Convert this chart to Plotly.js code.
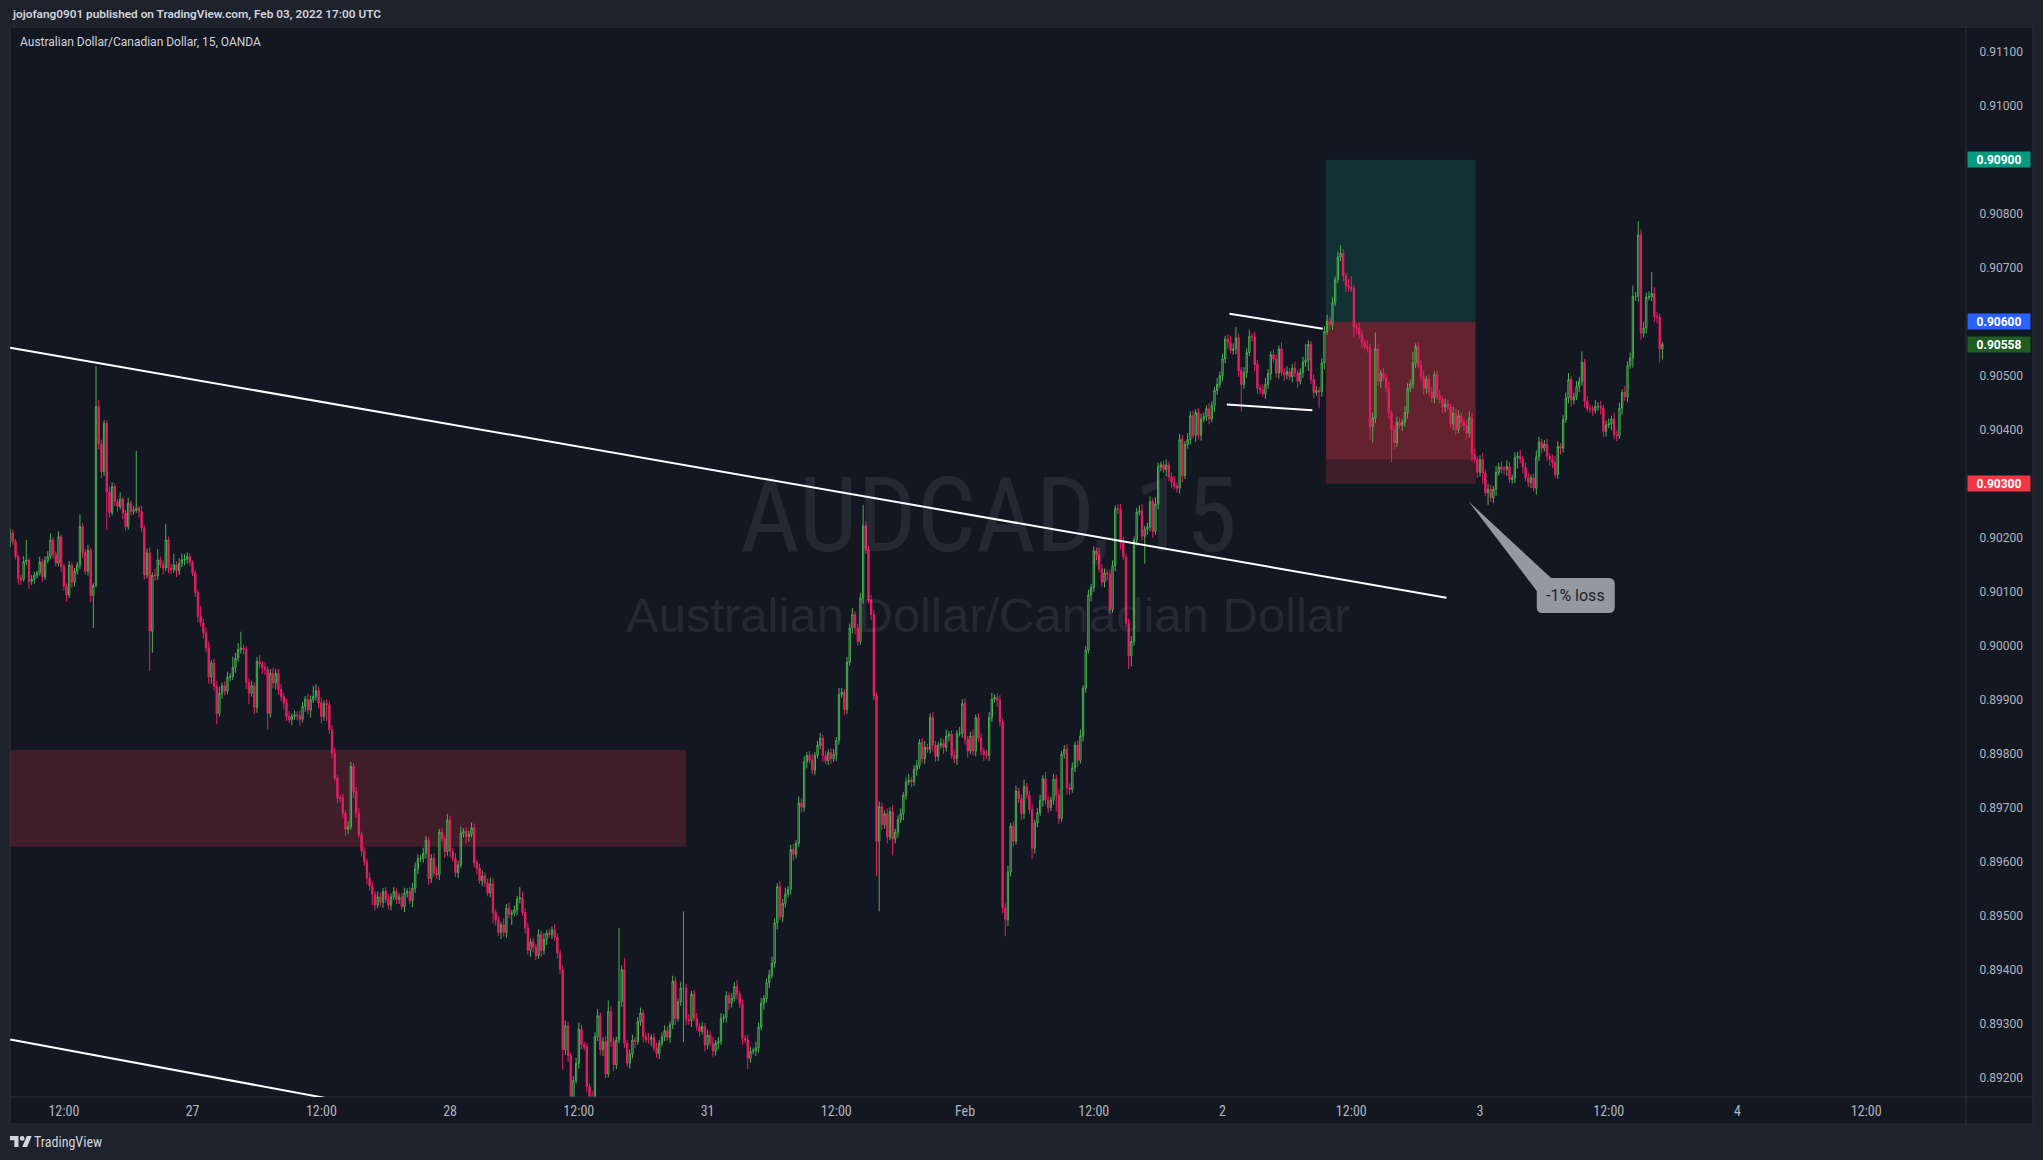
<!DOCTYPE html>
<html>
<head>
<meta charset="utf-8">
<script src="https://cdn.plot.ly/plotly-3.0.1.min.js"></script>
<style>
html,body{margin:0;padding:0;background:#1e222d;}
#chart{width:2043px;height:1160px;}
</style>
</head>
<body>
<div id="chart"></div>
<script>
// ---------------- DATA (AUDCAD 15m, OANDA) ----------------
// prices in 1e-5 units (pipettes); first bar = 26 Jan 07:00 UTC, 15-minute bars, weekend gap removed
const firstOpen5 = 90193;
const close5 = [
// 0
90209,90193,90165,90125,90123,90156,90159,90119,90123,90131,
90135,90155,90128,90158,90165,90196,90169,90153,90202,90147,
90110,90094,90149,90118,90138,
// 25
90150,90221,90173,90138,90177,90093,90112,90443,90374,90322,
90412,90285,90247,90295,90267,90258,90272,90246,90221,90264,
90249,90251,90255,90249,90218,
// 50
90131,90172,90027,90131,90130,90159,90150,90144,90196,90144,
90141,90150,90139,90152,90159,90160,90165,90154,90135,90098,
90054,90042,90024,89996,89942,
// 75
89968,89925,89875,89912,89926,89916,89942,89943,89960,89977,
89993,89996,89993,89932,89912,89926,89886,89971,89966,89960,
89956,89875,89949,89931,89949,
// 100
89919,89906,89894,89869,89863,89869,89872,89870,89864,89888,
89901,89881,89900,89906,89917,89894,89869,89893,89891,89845,
89801,89755,89718,
// 123
89718,89690,89660,89665,89777,89730,89690,89650,89620,89600,
89570,89555,89540,89520,89535,89525,89545,89530,89520,89535,
89545,89530,
// 145
89535,89517,89542,89545,89528,89551,89587,89606,89606,89616,
89640,89569,89606,89579,89576,89655,89643,89619,89677,89619,
89606,89580,89594,89653,89656,89647,89651,89663,89598,89588,
89565,89574,89561,89542,89559,89506,89492,89469,89483,89469,
89514,89503,89505,89511,89531,89533,89506,89477,89436,89452,
// 195
89442,89426,89465,89436,89456,89468,89465,89474,89460,89431,
89400,89252,89296,89241,89165,89195,89227,89290,89261,89257,
89184,89165,89160,89276,89315,89252,89267,89207,89323,89267,
89224,89270,89341,89400,89264,89227,89244,89270,89267,89304,
89320,89276,89271,89271,89275,89255,89245,89264,89276,89287,
// 245
89275,89298,89379,89310,89341,89366,89366,89308,89306,89355,
89310,89295,89286,89295,89261,89279,89264,89249,89264,89267,
89310,89312,89352,89338,89347,89369,89355,89337,89273,89270,
89236,89249,89250,89255,89294,89338,89347,89376,89390,89412,
89487,89554,89498,89523,89540,89549,89623,89614,89634,89709,
// 295
89701,89785,89797,89788,89770,89797,89816,89829,89797,89787,
89802,89791,89799,89825,89910,89914,89882,89969,90033,90058,
90033,90008,90088,90222,90178,90084,90058,89907,89638,89702,
89669,89689,89646,89693,89642,89655,89678,89689,89723,89748,
89751,89748,89771,89778,89821,89791,89812,89808,89867,89816,
// 345
89795,89816,89819,89812,89833,89836,89797,89791,89838,89838,
89893,89827,89805,89833,89805,89867,89829,89805,89799,89797,
89867,89901,89904,89899,89859,89515,89493,89581,89666,89638,
89731,89717,89689,89740,89723,89697,89625,89672,89691,89714,
89754,89714,89700,89714,89753,89723,89680,89799,89808,89737,
// 395
89734,89774,89816,89788,89833,89921,89992,90094,90108,90176,
90169,90142,90118,90135,90133,90067,90148,90254,90252,90190,
90165,90042,89982,90008,90196,90247,90250,90203,90216,90220,
90267,90212,90263,90331,90335,90326,90335,90313,90303,90296,
90292,90382,90315,90373,90382,90426,90390,90432,90390,90420,
// 445
90424,90439,90420,90445,90473,90484,90500,90531,90568,90562,
90547,90550,90570,90510,90484,90506,90543,90573,90572,90521,
90477,90474,90467,90484,90504,90539,90531,90505,90550,90506,
90502,90508,90498,90514,90505,90490,90506,90525,90529,90558,
90493,90469,90473,90471,90524,90582,90601,90595,90635,90678,
// 495
90720,90727,90685,90667,90664,90661,90590,90588,90576,90562,
90554,90551,90406,90422,90550,90490,90505,90496,90477,90431,
90400,90376,90414,90408,90414,90432,90476,90485,90524,90554,
90519,90498,90477,90494,90469,90459,90502,90462,90456,90442,
90448,90442,90411,90431,90400,90426,90413,90408,90394,90422,
// 545
90354,90345,90321,90345,90320,90283,90290,90274,90290,90321,
90331,90327,90327,90332,90308,90311,90348,90351,90346,90331,
90311,90302,90311,90292,90350,90377,90366,90373,90351,90346,
90339,90317,90369,90366,90419,90459,90493,90455,90461,90480,
90490,90525,90453,90439,90439,90436,90443,90443,90440,90397,
// 595
90409,90411,90420,90391,90389,90440,90469,90461,90519,90533,
90647,90647,90761,90579,90588,90646,90646,90652,90610,90609,
90550,90558
];
// wick lengths beyond the body, in 1e-5 units
const upWick5 = [
8,6,5,4,6,10,37,4,8,6, 4,10,6,8,10,12,5,6,10,4, 5,6,8,6,6,
5,22,6,5,10,5,4,75,12,8, 6,5,10,8,6,5,12,4,6,10, 5,8,106,4,10,
6,8,10,5,12,20,6,8,30,6, 8,20,6,10,12,10,8,6,4,5, 6,20,8,10,12,
6,8,10,12,6,8,10,6,20,10, 12,30,6,6,8,10,6,8,12,6, 10,6,8,10,8,
8,10,6,8,10,6,8,6,10,8, 6,10,8,20,12,8,10,6,8,6, 8,10,6,
6,8,6,10,8,6,8,10,6,8, 6,10,8,6,10,8,6,8,10,6, 8,6,
6,8,10,6,8,10,12,8,6,10, 8,6,8,10,12,6,8,6,12,8, 6,10,8,12,6,8,6,10,8,6, 8,10,6,8,12,10,6,8,6,12, 8,10,6,8,6,20,12,8,10,6,
8,6,10,8,12,6,8,6,10,8, 6,8,10,8,6,8,10,12,8,6, 8,6,10,8,12,6,8,10,20,10, 8,6,136,8,22,6,8,10,6,8, 10,6,8,12,6,8,10,6,8,10,
8,6,10,8,6,12,142,8,10,6, 8,10,6,8,6,10,8,12,6,8, 10,6,8,6,10,8,12,6,8,6, 10,8,6,12,8,10,6,8,10,12, 8,6,10,8,12,6,8,10,6,12,
8,10,6,8,12,6,8,10,6,8, 6,8,10,6,12,8,6,10,8,12, 6,8,10,39,8,6,10,8,6,10, 8,6,10,8,12,6,8,10,6,8, 12,6,8,10,6,8,12,6,8,10,
8,6,10,8,12,6,8,10,6,12, 8,10,6,8,12,6,8,10,6,8, 10,12,6,8,10,6,8,12,6,8, 10,6,8,12,6,8,10,6,8,10, 6,12,8,6,10,8,12,6,8,10,
8,10,6,8,12,6,8,10,6,8, 6,12,10,8,6,8,10,6,8,10, 12,6,8,10,6,8,10,12,6,8, 10,6,12,8,6,8,10,6,8,12, 6,10,8,6,12,8,10,6,8,10,
8,6,10,8,6,12,8,10,6,8, 12,10,20,8,6,10,8,12,6,10, 8,6,10,12,8,6,10,8,6,12, 8,10,6,8,12,6,8,10,30,8, 6,10,8,6,8,10,12,8,10,6,
10,15,8,6,12,20,8,6,10,8, 6,12,8,10,30,8,6,10,8,12, 6,8,10,8,6,12,10,8,20,6, 8,10,12,6,8,10,6,8,12,6, 10,8,6,12,8,10,6,8,10,12,
8,10,6,8,12,6,10,8,6,12, 8,10,6,12,8,6,10,8,12,6, 8,10,6,8,12,10,6,8,10,6, 8,12,10,6,8,10,12,6,8,10, 8,20,6,10,8,6,12,8,10,6,
8,10,6,12,8,10,6,12,8,10, 20,8,25,10,12,8,10,40,12,8, 6,5
];
const downWick5 = [
10,6,5,12,10,4,6,14,6,8, 6,5,10,6,5,5,8,6,6,10, 8,12,6,10,8,
6,8,10,6,8,12,60,4,10,12, 8,70,10,6,8,10,5,12,8,6, 8,6,5,12,8,
8,6,74,40,10,8,6,12,6,10, 8,6,12,8,6,10,8,6,6,8, 10,6,10,8,12,
12,8,20,6,10,8,6,8,6,10, 6,8,10,12,20,6,12,10,8,12, 10,30,8,10,12,
10,8,12,8,6,10,6,8,12,6, 10,8,14,6,8,10,12,8,30,8, 10,6,10,
8,10,12,8,6,12,8,6,10,8, 12,8,20,10,6,8,10,6,8,10, 6,8,
8,6,10,8,6,12,8,10,6,8, 10,12,8,6,8,10,6,12,8,10, 6,8,10,6,8,12,10,6,8,12, 6,10,8,6,8,20,10,6,12,8, 10,8,20,6,10,8,6,10,8,12,
10,8,6,12,8,10,6,8,6,10, 8,37,10,12,20,8,6,10,8,6, 10,12,8,20,8,10,12,8,6,10, 12,8,6,10,8,6,10,8,12,6, 8,10,6,8,12,6,8,10,6,8,
6,10,8,12,6,8,100,10,8,12, 6,8,10,6,12,8,6,10,8,12, 6,8,10,12,8,6,10,8,12,6, 20,8,6,10,8,6,12,8,10,6, 8,12,6,10,8,6,10,12,8,6,
10,8,12,6,8,10,6,8,12,6, 8,10,6,12,8,6,10,8,6,10, 12,8,6,10,8,6,10,8,64,130, 10,8,12,6,30,8,10,6,12,8, 6,10,8,12,6,8,10,6,8,12,
10,8,6,12,8,10,6,8,12,6, 8,10,12,6,8,10,6,8,12,6, 10,8,6,12,8,10,31,12,8,10, 6,8,12,10,6,8,20,10,8,6, 12,8,10,6,8,30,10,6,8,12,
10,6,8,12,6,10,8,6,12,8, 10,6,8,10,12,8,6,10,8,12, 6,8,25,20,8,10,6,8,51,10, 8,12,6,10,8,6,12,8,10,6, 8,10,12,6,8,10,6,12,8,10,
6,8,10,6,12,8,6,10,8,12, 6,8,10,12,50,8,10,6,8,12, 10,8,6,10,8,12,6,8,10,6, 12,8,6,10,8,12,6,10,8,20, 8,10,6,30,10,12,6,8,10,6,
6,8,10,12,8,6,20,10,8,12, 6,8,26,30,10,8,12,6,8,10, 60,12,8,6,10,8,12,6,8,10, 6,8,12,10,6,8,10,6,8,12, 10,6,8,12,10,6,8,10,12,8,
12,6,10,8,20,6,22,8,10,12, 6,8,10,12,6,8,10,20,8,12, 6,8,10,6,12,8,10,6,8,12, 10,6,8,12,8,6,10,12,8,6, 10,8,12,6,8,10,6,8,12,10,
10,6,12,8,10,6,12,8,10,6, 18,8,10,12,8,10,6,8,10,12, 25,20
];

// x-axis tick labels (one every 12 hours, first = 26 Jan 12:00 which is bar 20)
const tickLabels = ['12:00','27','12:00','28','12:00','31','12:00','Feb','12:00','2','12:00','3','12:00','4','12:00'];
const firstTickBar = 20, barsPerTick = 48;

// drawings (bar index, price)
const trendMain  = {x:[0, 535.5],   y:[0.90552, 0.90089]};
const trendLow   = {x:[0, 130],     y:[0.89271, 0.89151]};
const flagTop    = {x:[454.6, 489.4], y:[0.90615, 0.90587]};
const flagBottom = {x:[453.6, 485.5], y:[0.90447, 0.90436]};
const supplyZone = {x:[-20, 252],   y:[0.89628, 0.89807]};
const position   = {x:[490.6, 546.4], entry:0.90600, target:0.90900, stop:0.90300, last:0.90345};
const calloutTip = {x:543.8, y:0.90267, text:'-1% loss'};
const lastPrice  = 0.90558;

// ---------------- BUILD ----------------
const idx=[], open=[], high=[], low=[], close=[];
for (let i=0;i<close5.length;i++){
  const o = i===0 ? firstOpen5 : close5[i-1];
  const c = close5[i];
  const u = upWick5[i]!==undefined ? upWick5[i] : 6;
  const d = downWick5[i]!==undefined ? downWick5[i] : 6;
  idx.push(i); open.push(o/1e5); close.push(c/1e5);
  high.push((Math.max(o,c)+u)/1e5); low.push((Math.min(o,c)-d)/1e5);
}
const tickVals = tickLabels.map((_,k)=>firstTickBar+barsPerTick*k);

// frame geometry helpers (pixels -> paper)
const W=2043,H=1160, ML=10, MR=77, MT=27, MB=63;
const PW=W-ML-MR, PH=H-MT-MB;
const PX = px => (px-ML)/PW;
const PY = py => (H-MB-py)/PH;

const BG='#131722', FRAME='#1e222d', BORDER='#2a2e39', TXT='#b2b5be';
const NARROW = "'Liberation Sans Narrow','Roboto Condensed','Arial Narrow',Roboto,sans-serif";

const trace = {
  type:'candlestick', x:idx, open:open, high:high, low:low, close:close,
  increasing:{line:{color:'#4caf50',width:1}, fillcolor:'rgba(0,0,0,0)'},
  decreasing:{line:{color:'#e91e63',width:1}, fillcolor:'#e91e63'},
  whiskerwidth:0, hoverinfo:'skip', showlegend:false
};

const shapes = [
  // panel background & borders
  {type:'rect', xref:'paper', yref:'paper', x0:PX(10), x1:PX(2033), y0:PY(1124), y1:PY(27),
   fillcolor:BG, line:{color:BORDER,width:1}, layer:'below'},
  {type:'line', xref:'paper', yref:'paper', x0:1, x1:1, y0:PY(1124), y1:PY(27), line:{color:BORDER,width:1}},
  {type:'line', xref:'paper', yref:'paper', x0:0, x1:PX(2033), y0:0, y1:0, line:{color:BORDER,width:1}},
  // supply zone
  {type:'rect', xref:'x', yref:'y', x0:supplyZone.x[0], x1:supplyZone.x[1], y0:supplyZone.y[0], y1:supplyZone.y[1],
   fillcolor:'rgba(242,54,69,0.2)', line:{width:0}, layer:'below'},
  // long position tool
  {type:'rect', xref:'x', yref:'y', x0:position.x[0], x1:position.x[1], y0:position.entry, y1:position.target,
   fillcolor:'rgba(8,153,129,0.2)', line:{width:0}, layer:'below'},
  {type:'rect', xref:'x', yref:'y', x0:position.x[0], x1:position.x[1], y0:position.stop, y1:position.entry,
   fillcolor:'rgba(242,54,69,0.2)', line:{width:0}, layer:'below'},
  {type:'rect', xref:'x', yref:'y', x0:position.x[0], x1:position.x[1], y0:position.last, y1:position.entry,
   fillcolor:'rgba(242,54,69,0.2)', line:{width:0}, layer:'below'},
  // trend lines
  {type:'line', xref:'x', yref:'y', x0:trendMain.x[0], x1:trendMain.x[1], y0:trendMain.y[0], y1:trendMain.y[1], line:{color:'#ffffff',width:2}},
  {type:'line', xref:'x', yref:'y', x0:trendLow.x[0], x1:trendLow.x[1], y0:trendLow.y[0], y1:trendLow.y[1], line:{color:'#ffffff',width:2}},
  {type:'line', xref:'x', yref:'y', x0:flagTop.x[0], x1:flagTop.x[1], y0:flagTop.y[0], y1:flagTop.y[1], line:{color:'#ffffff',width:2}},
  {type:'line', xref:'x', yref:'y', x0:flagBottom.x[0], x1:flagBottom.x[1], y0:flagBottom.y[0], y1:flagBottom.y[1], line:{color:'#ffffff',width:2}},
  // callout balloon (pixel offsets from tip, y up)
  {type:'path', xref:'x', yref:'y', xsizemode:'pixel', ysizemode:'pixel', xanchor:calloutTip.x, yanchor:calloutTip.y,
   path:'M0,0 L70,-92 L84,-78 Z', fillcolor:'#9598a1', line:{width:0}},
  {type:'path', xref:'x', yref:'y', xsizemode:'pixel', ysizemode:'pixel', xanchor:calloutTip.x, yanchor:calloutTip.y,
   path:'M74,-76.5 L140,-76.5 Q146,-76.5 146,-82.5 L146,-105.5 Q146,-111.5 140,-111.5 L74,-111.5 Q68,-111.5 68,-105.5 L68,-82.5 Q68,-76.5 74,-76.5 Z',
   fillcolor:'#9598a1', line:{width:0}},
  // TradingView logo
  {type:'path', xref:'paper', yref:'paper', xsizemode:'pixel', ysizemode:'pixel', xanchor:0, yanchor:0,
   path:'M8.5,-50 L4.3,-50 L4.3,-43.3 L0,-43.3 L0,-39 L8.5,-39 Z', fillcolor:'#d1d4dc', line:{width:0}},
  {type:'circle', xref:'paper', yref:'paper', xsizemode:'pixel', ysizemode:'pixel', xanchor:0, yanchor:0,
   x0:9.8, x1:14.6, y0:-43.8, y1:-39, fillcolor:'#d1d4dc', line:{width:0}},
  {type:'path', xref:'paper', yref:'paper', xsizemode:'pixel', ysizemode:'pixel', xanchor:0, yanchor:0,
   path:'M17.1,-50 L12.2,-50 L16.8,-39 L21.7,-39 Z', fillcolor:'#d1d4dc', line:{width:0}}
];

function priceTag(y, color){
  return {xref:'paper', yref:'y', x:1, y:y, xanchor:'left', yanchor:'middle', xshift:1,
    text:y.toFixed(5), showarrow:false, bgcolor:color, width:62, height:15, borderpad:0,
    font:{family:'Roboto, sans-serif', size:12, color:'#ffffff', weight:700}};
}

const annotations = [
  {xref:'paper', yref:'paper', x:0.5, y:PY(515), text:'AUDCAD, 15', showarrow:false,
   font:{family:NARROW, size:104, color:'rgba(255,255,255,0.075)'}, xanchor:'center', yanchor:'middle'},
  {xref:'paper', yref:'paper', x:0.5, y:PY(615), text:'Australian Dollar/Canadian Dollar', showarrow:false,
   font:{family:"'Liberation Sans',Arial,sans-serif", size:49, color:'rgba(255,255,255,0.075)'}, xanchor:'center', yanchor:'middle'},
  {xref:'paper', yref:'paper', x:0, y:1, xanchor:'left', yanchor:'middle', yshift:13, showarrow:false,
   text:'jojofang0901 published on TradingView.com, Feb 03, 2022 17:00 UTC',
   font:{family:'Roboto, sans-serif', size:11.8, color:'#d1d4dc', weight:600}},
  {xref:'paper', yref:'paper', x:0, y:1, xanchor:'left', yanchor:'middle', xshift:8, yshift:-15, showarrow:false,
   text:'Australian Dollar/Canadian Dollar, 15, OANDA',
   font:{family:'Roboto, sans-serif', size:12, color:'#d1d4dc'}},
  {xref:'paper', yref:'paper', x:0, y:0, xanchor:'left', yanchor:'middle', xshift:22, yshift:-44.5, showarrow:false,
   text:'TradingView', font:{family:NARROW, size:14, color:'#d1d4dc'}},
  {xref:'x', yref:'y', x:calloutTip.x, y:calloutTip.y, xshift:107, yshift:-94, showarrow:false,
   text:calloutTip.text, font:{family:'Roboto, sans-serif', size:16, color:'#1e222d'}, xanchor:'center', yanchor:'middle'},
  priceTag(position.target, '#089981'),
  priceTag(position.entry, '#2962ff'),
  priceTag(lastPrice, '#1e5e22'),
  priceTag(position.stop, '#f23645')
];

const layout = {
  width:W, height:H, autosize:false,
  margin:{l:ML, r:MR, t:MT, b:MB, pad:0},
  paper_bgcolor:FRAME, plot_bgcolor:BG,
  showlegend:false, dragmode:false, hovermode:false,
  xaxis:{type:'linear', range:[-0.076, 729.2], showgrid:false, zeroline:false, showline:false,
    rangeslider:{visible:false}, tickmode:'array', tickvals:tickVals, ticktext:tickLabels,
    ticks:'outside', ticklen:1, tickcolor:'rgba(0,0,0,0)',
    tickfont:{family:NARROW, size:14, color:TXT}, fixedrange:true},
  yaxis:{side:'right', range:[0.891644, 0.911459], showgrid:false, zeroline:false, showline:false,
    tick0:0.892, dtick:0.001, tickformat:'.5f', ticks:'outside', ticklen:10, tickcolor:'rgba(0,0,0,0)',
    tickfont:{family:'Roboto, sans-serif', size:12, color:TXT}, fixedrange:true},
  shapes:shapes, annotations:annotations
};

Plotly.newPlot('chart', [trace], layout, {staticPlot:true, displayModeBar:false});
</script>
</body>
</html>
